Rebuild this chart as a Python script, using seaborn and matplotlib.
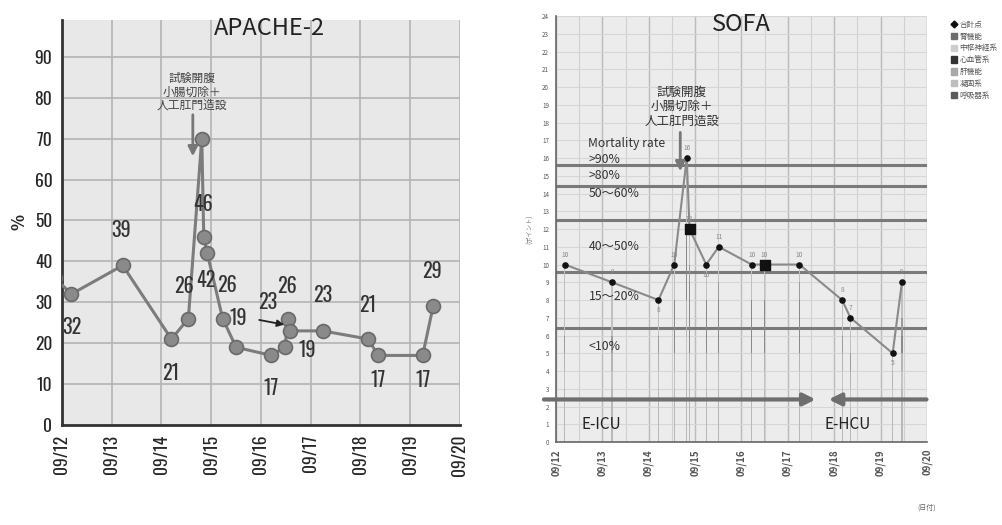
import numpy as np
import pandas as pd
import matplotlib.pyplot as plt
import seaborn as sns
from matplotlib.lines import Line2D
from matplotlib.patches import Patch

sns.set_style("white")
plt.rcParams['font.family'] = ['Noto Sans CJK JP', 'DejaVu Sans']

date_labels = ["09/12", "09/13", "09/14", "09/15", "09/16", "09/17", "09/18", "09/19", "09/20"]

# APACHE-2 (days after 09/12 00:00, score)
apache_day = [-0.15, 0.19, 1.22, 2.20, 2.54, 2.81, 2.85, 2.92, 3.23, 3.50, 4.21, 4.48, 4.55, 4.58, 5.24, 6.16, 6.35, 7.25, 7.46]
apache_score = [36, 32, 39, 21, 26, 70, 46, 42, 26, 19, 17, 19, 26, 23, 23, 21, 17, 17, 29]
apache_text = ["", "32", "39", "21", "26", "", "46", "42", "26", "19", "17", "19", "26", "23", "23", "21", "17", "17", "29"]
# label offsets in pixels
apache_off = [(0, 0), (0, -33), (-2, 35), (-1, -34), (-4, 33), (0, 0), (-1, 33), (-1, -27), (4, 34), (2, 29),
              (0, -33), (22, -3), (-1, 33), (-22, 29), (0, 36), (-1, 34), (0, -25), (0, -25), (-1, 35)]

# SOFA total score and organ components
sofa_day = [0.19, 1.21, 2.21, 2.55, 2.82, 2.88, 3.24, 3.51, 4.22, 4.50, 5.25, 6.17, 6.35, 7.26, 7.46]
sofa_total = [10, 9, 8, 10, 16, 12, 10, 11, 10, 10, 10, 8, 7, 5, 9]
sofa_resp = [3, 3, 3, 3, 4, 3, 3, 3, 3, 3, 3, 3, 2, 2, 3]
sofa_coag = [1, 1, 1, 1, 2, 1, 1, 1, 1, 1, 1, 1, 1, 1, 1]
sofa_liver = [1, 1, 1, 1, 2, 1, 1, 1, 1, 1, 1, 1, 1, 1, 1]
sofa_cardio = [0, 0, 0, 3, 4, 4, 3, 3, 3, 3, 3, 0, 0, 0, 1]
sofa_renal = [1, 1, 1, 0, 0, 1, 0, 1, 0, 0, 1, 1, 1, 0, 1]
sofa_cns = [4, 3, 2, 2, 4, 2, 2, 2, 2, 2, 1, 2, 2, 1, 2]
sofa_off = [(0, 10), (0, 10), (0, -10), (0, 10), (0, 10), (0, 10), (0, -10), (0, 10), (0, 10), (0, 10), (0, 10), (0, 10), (0, 10), (0, -10), (0, 10)]

mortality_levels = [15.6, 14.4, 12.5, 9.6, 6.4]
mortality_labels = ["Mortality rate", ">90%", ">80%", "50\u301c60%", "40\u301c50%", "15\u301c20%", "<10%"]
mortality_label_y = [16.8, 15.9, 15.0, 14.0, 11.0, 8.2, 5.4]

component_names = ["呼吸器系", "凝固系", "肝機能", "心血管系", "腎機能", "中枢神経系"]
component_colors = ["#b8b8b8", "#c4c4c4", "#b4b4b4", "#8a8a8a", "#9c9c9c", "#c0c0c0"]

op_text = "試験開腹\n小腸切除＋\n人工肛門造設"

apache_df = pd.DataFrame({"day": apache_day, "score": apache_score})
sofa_df = pd.DataFrame({"day": sofa_day, "score": sofa_total})

fig = plt.figure(figsize=(10.03, 5.25), dpi=100)
ax1 = fig.add_axes([0.0618, 0.1905, 0.3968, 0.7715])
ax2 = fig.add_axes([0.5543, 0.158, 0.3699, 0.8115])

narrow = ["Oswald", "Roboto Condensed", "Archivo Narrow", "DejaVu Sans"]

# ---------- APACHE-2 ----------
ax1.set_facecolor("#e8e8e8")
ax1.set_xlim(0, 8)
ax1.set_ylim(0, 99)
for d in range(9):
    ax1.axvline(d, color="#b4b4b4", lw=1.2, zorder=0)
for v in range(10, 100, 10):
    ax1.axhline(v, color="#b4b4b4", lw=1.2, zorder=0)
sns.lineplot(data=apache_df, x="day", y="score", ax=ax1, color="#7c7c7c", lw=2.2,
             marker="o", markersize=10, markerfacecolor="#8a8a8a", markeredgecolor="#6a6a6a",
             markeredgewidth=1.2, sort=False, estimator=None, zorder=3)
for d, s, t, off in zip(apache_day, apache_score, apache_text, apache_off):
    if t:
        ax1.annotate(t, (d, s), xytext=off, textcoords="offset pixels", ha="center", va="center",
                     fontsize=14.5, color="#333333", family=narrow, fontweight="light", zorder=4)
ax1.annotate("", xy=(4.52, 24.4), xytext=(3.91, 25.8),
             arrowprops=dict(arrowstyle="-|>", color="#222222", lw=1.3, mutation_scale=10), zorder=5)
ax1.annotate("", xy=(2.63, 65.0), xytext=(2.63, 76.5),
             arrowprops=dict(arrowstyle="-|>", color="#777777", lw=2, mutation_scale=14), zorder=5)
ax1.text(2.61, 81.4, op_text, ha="center", va="center", fontsize=8.5, color="#444444",
         linespacing=1.05, zorder=5)
ax1.text(0.52, 0.98, "APACHE-2", transform=ax1.transAxes, ha="center", va="center",
         fontsize=17, color="#222222")
ax1.set_xticks(range(9))
ax1.set_xticklabels(date_labels, rotation=90, fontsize=12.5, fontweight="bold", family=narrow)
ax1.set_yticks(range(0, 100, 10))
ax1.set_yticklabels([str(v) for v in range(0, 100, 10)], fontsize=12.5, fontweight="bold", family=narrow)
ax1.tick_params(axis="both", length=5, width=1.5, color="#333333", pad=2)
ax1.set_xlabel("")
ax1.set_ylabel("%", fontsize=12, fontweight="bold", labelpad=4)
for side in ["top", "right"]:
    ax1.spines[side].set_visible(False)
for side in ["left", "bottom"]:
    ax1.spines[side].set_color("#333333")
    ax1.spines[side].set_linewidth(2)

# ---------- SOFA ----------
ax2.set_facecolor("#ececec")
ax2.set_xlim(0, 8)
ax2.set_ylim(0, 24)
for d in np.arange(0, 8.01, 0.5):
    ax2.axvline(d, color="#d0d0d0", lw=0.8, zorder=0)
for d in range(9):
    ax2.axvline(d, color="#bcbcbc", lw=1.0, zorder=0)
for v in range(1, 25):
    ax2.axhline(v, color="#d6d6d6", lw=0.8, zorder=0)
for v in mortality_levels:
    ax2.axhline(v, color="#7a7a7a", lw=2.2, zorder=1)

components = [sofa_resp, sofa_coag, sofa_liver, sofa_cardio, sofa_renal, sofa_cns]
bottom = np.zeros(len(sofa_day))
for comp, col in zip(components, component_colors):
    ax2.bar(sofa_day, comp, bottom=bottom, width=0.025, color=col, linewidth=0, zorder=1.5)
    bottom = bottom + np.array(comp)

sns.lineplot(data=sofa_df, x="day", y="score", ax=ax2, color="#8a8a8a", lw=1.5,
             sort=False, estimator=None, zorder=3)
big = [5, 9]
ax2.scatter(sofa_day, sofa_total, s=14, color="#111111", zorder=4)
ax2.scatter([sofa_day[i] for i in big], [sofa_total[i] for i in big], s=55, marker="s",
            color="#111111", zorder=4)
for d, s, off in zip(sofa_day, sofa_total, sofa_off):
    ax2.annotate(str(s), (d, s), xytext=off, textcoords="offset pixels", ha="center", va="center",
                 fontsize=4.8, color="#888888", zorder=4)

for t, y in zip(mortality_labels, mortality_label_y):
    ax2.text(0.70, y, t, ha="left", va="center", fontsize=8.8, color="#333333", zorder=5)

ax2.annotate("", xy=(2.68, 15.1), xytext=(2.68, 17.6),
             arrowprops=dict(arrowstyle="-|>", color="#777777", lw=2, mutation_scale=14), zorder=5)
ax2.text(2.71, 18.9, op_text, ha="center", va="center", fontsize=9, color="#333333",
         linespacing=1.15, zorder=5)

# E-ICU / E-HCU transfer arrows
ax2.annotate("", xy=(5.66, 2.4), xytext=(-0.32, 2.4), annotation_clip=False,
             arrowprops=dict(arrowstyle="-|>", color="#6e6e6e", lw=3, mutation_scale=18), zorder=5)
ax2.annotate("", xy=(5.82, 2.4), xytext=(8.05, 2.4), annotation_clip=False,
             arrowprops=dict(arrowstyle="-|>", color="#6e6e6e", lw=3, mutation_scale=18), zorder=5)
ax2.text(0.55, 1.0, "E-ICU", ha="left", va="center", fontsize=11, color="#222222", zorder=5)
ax2.text(5.78, 1.0, "E-HCU", ha="left", va="center", fontsize=11, color="#222222", zorder=5)

ax2.text(0.50, 0.98, "SOFA", transform=ax2.transAxes, ha="center", va="center",
         fontsize=17, color="#222222")
ax2.set_xticks(range(9))
ax2.set_xticklabels(date_labels, rotation=90, fontsize=7, fontweight="bold", color="#555555")
ax2.set_yticks(range(0, 25))
ax2.set_yticklabels([str(v) for v in range(0, 25)], fontsize=4.5, color="#555555")
ax2.tick_params(axis="both", length=3, width=0.8, color="#666666", pad=2)
ax2.set_xlabel("")
ax2.set_ylabel("(ポイント)", fontsize=4.5, color="#777777", labelpad=6)
ax2.text(1.0, -0.155, "(日付)", transform=ax2.transAxes, ha="center", va="center",
         fontsize=5, color="#666666")
for side in ["top", "right"]:
    ax2.spines[side].set_visible(False)
for side in ["left", "bottom"]:
    ax2.spines[side].set_color("#666666")
    ax2.spines[side].set_linewidth(1.2)

handles = [Line2D([0], [0], color="#111111", marker="D", markersize=3.5, lw=0.8, label="合計点")]
legend_names = ["腎機能", "中枢神経系", "心血管系", "肝機能", "凝固系", "呼吸器系"]
legend_colors = ["#6e6e6e", "#cdcdcd", "#333333", "#a8a8a8", "#bdbdbd", "#5a5a5a"]
for n, c in zip(legend_names, legend_colors):
    handles.append(Patch(color=c, label=n))
ax2.legend(handles=handles, loc="upper left", bbox_to_anchor=(1.045, 1.005), frameon=False,
           fontsize=5.5, handlelength=0.9, handleheight=0.9, labelspacing=0.5, handletextpad=0.3,
           labelcolor="#555555")

fig.savefig("out.png", dpi=100)
